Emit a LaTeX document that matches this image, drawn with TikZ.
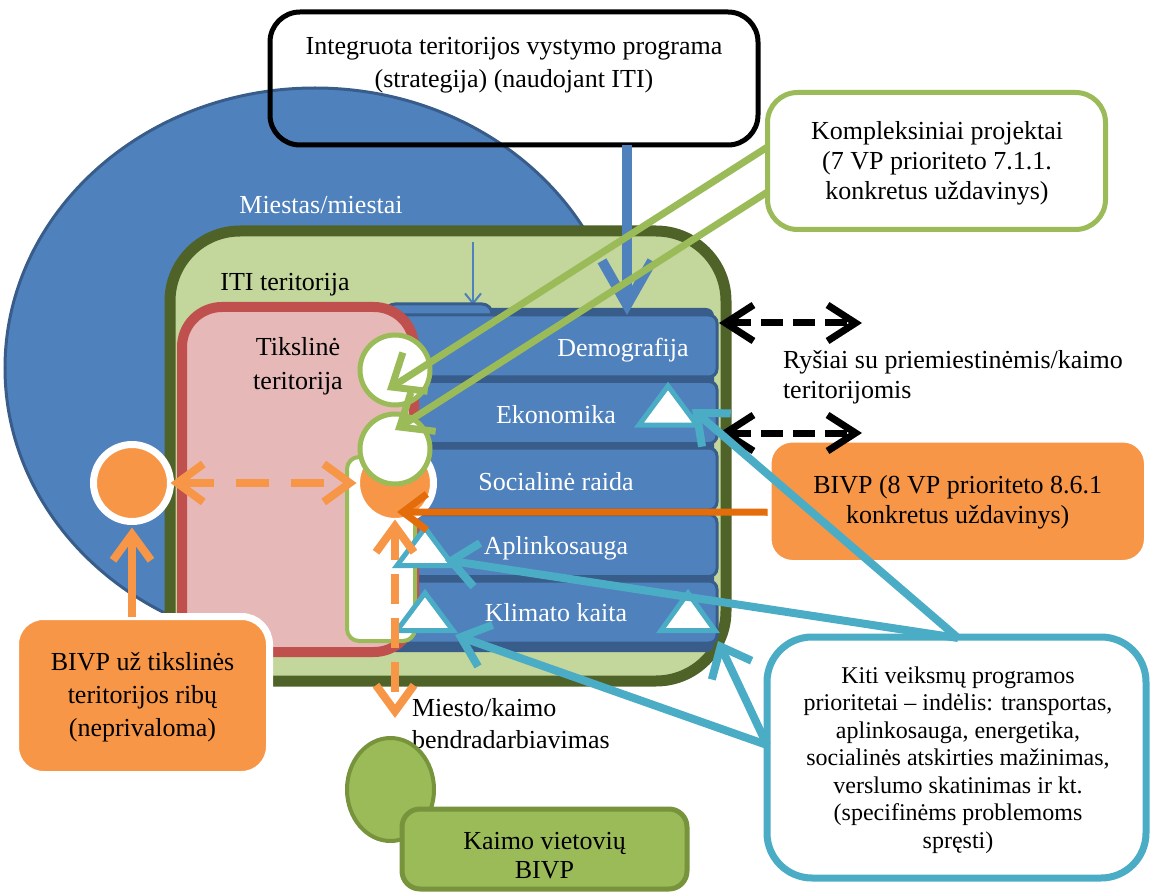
\documentclass[tikz,border=0pt]{standalone}
\usepackage{fontspec}
\setmainfont{Liberation Serif}
\usetikzlibrary{arrows.meta,shapes.geometric}
\definecolor{bluefill}{HTML}{4F81BD}
\definecolor{blueline}{HTML}{385D8A}
\definecolor{itiline}{HTML}{4F6228}
\definecolor{itifill}{HTML}{C3D69B}
\definecolor{redline}{HTML}{C0504D}
\definecolor{pinkfill}{HTML}{E6B9B8}
\definecolor{grn}{HTML}{9BBB59}
\definecolor{grnline}{HTML}{77933C}
\definecolor{orng}{HTML}{F79646}
\definecolor{orngdark}{HTML}{E46C0A}
\definecolor{cyanl}{HTML}{4BACC6}
\tikzset{
  every node/.style={font=\fontsize{26}{33}\selectfont, inner sep=0pt, outer sep=0pt},
  rbox/.style={rectangle, rounded corners=#1},
  bar/.style={rectangle, rounded corners=8pt, fill=bluefill, draw=blueline, line width=3pt, minimum width=330pt, minimum height=62pt},
  barlabel/.style={text=white},
  tri/.style={draw=cyanl, fill=white, line width=5pt, line join=miter},
  garrow/.style={draw=grn, line width=7pt, -{Straight Barb[length=28pt,width=46pt]}},
  carrow/.style={draw=cyanl, line width=8pt, -{Straight Barb[length=26pt,width=44pt]}},
  oarrow/.style={draw=orng, line width=8pt},
  karrow/.style={draw=black, line width=7pt, dash pattern=on 22pt off 10pt, {Straight Barb[length=28pt,width=36pt]}-{Straight Barb[length=28pt,width=36pt]}},
}
\begin{document}
\begin{tikzpicture}[x=1pt,y=-1pt]
\useasboundingbox (0,0) rectangle (1152,893);
% city ellipse
\node[ellipse, fill=bluefill, draw=blueline, line width=3pt, minimum width=620pt, minimum height=560pt] (city) at (315,368) {};
\node[text=white] (citytxt) at (321,205) {Miestas/miestai};
% top box
\node[rbox=30pt, draw=black, line width=5pt, minimum width=488pt, minimum height=133pt] (top) at (514,78.5) {};
\node[align=center] (toptxt) at (514,65) {Integruota teritorijos vystymo programa\\(strategija) (naudojant ITI)};
% ITI territory
\node[rbox=70pt, fill=itifill, draw=itiline, line width=11pt, minimum width=556pt, minimum height=450pt] (iti) at (448,456) {};
\node (ititxt) at (285,285) {ITI teritorija};
% thin blue arrow
\coordinate (thinA) at (473,242);
\coordinate (thinB) at (473,305);
\draw[bluefill, line width=2pt, -{Straight Barb[length=10pt,width=16pt]}] (thinA) -- (thinB);
% bar stack
\node[rbox=8pt, fill=blueline, minimum width=327pt, minimum height=344pt] (stack) at (550.5,480) {};
\node[rbox=10pt, fill=bluefill, draw=blueline, line width=3pt, minimum width=107pt, minimum height=26pt] (tab) at (438.5,317) {};
\node[bar] (demo) at (552,346) {};
\node[bar] (ekon) at (552,412.5) {};
\node[bar] (soc) at (552,479) {};
\node[bar] (apl) at (552,545.5) {};
\node[bar] (klim) at (552,612) {};
\node[barlabel] (demotxt) at (623,350) {Demografija};
\node[barlabel] (ekontxt) at (556,415) {Ekonomika};
\node[barlabel] (soctxt) at (556,482) {Socialinė raida};
\node[barlabel] (apltxt) at (556,548) {Aplinkosauga};
\node[barlabel] (klimtxt) at (556,613) {Klimato kaita};
% target territory
\node[rbox=40pt, fill=pinkfill, draw=redline, line width=10pt, minimum width=232pt, minimum height=345pt] (pink) at (298,479.5) {};
\node[align=center, font=\fontsize{26}{34}\selectfont] (pinktxt) at (298,366) {Tikslinė\\teritorija};
% white panel
\node[rbox=12pt, fill=white, draw=grn, line width=4pt, minimum width=68pt, minimum height=184pt] (panel) at (381,549) {};
% circles
\node[circle, fill=orng, draw=white, line width=7pt, minimum size=77pt] (c3) at (395,483) {};
\node[circle, fill=white, draw=grn, line width=5pt, minimum size=70pt] (c2) at (395,449) {};
\node[circle, fill=white, draw=grn, line width=5pt, minimum size=70pt] (c1) at (395,370) {};
% triangles
\draw[tri] (668,386) -- (697,425) -- (639,425) -- cycle;
\draw[tri] (425,528) -- (453,565.5) -- (397,565.5) -- cycle;
\draw[tri] (425,593) -- (453,630.5) -- (397,630.5) -- cycle;
\draw[tri] (688,593) -- (715,630.5) -- (661,630.5) -- cycle;
\coordinate (t1) at (692,409);
\coordinate (t2) at (445,560);
\coordinate (t3) at (455,635);
\coordinate (t4) at (718,641);
% left orange circle
\node[circle, fill=orng, draw=white, line width=7pt, minimum size=77pt] (lc) at (132,483) {};
% boxes
\node[rbox=28pt, fill=orng, draw=white, line width=7pt, minimum width=254pt, minimum height=158pt] (bivpu) at (142.5,695.5) {};
\node[align=center] (bivputxt) at (142.5,697) {BIVP už tikslinės\\teritorijos ribų\\(neprivaloma)};
\node[rbox=25pt, fill=orng, draw=white, line width=8pt, minimum width=380.5pt, minimum height=125.5pt] (bivp8) at (957.75,501.25) {};
\node[align=center, font=\fontsize{26}{30}\selectfont] (bivp8txt) at (957.75,502) {BIVP (8 VP prioriteto 8.6.1\\konkretus uždavinys)};
\node[rbox=30pt, fill=white, draw=grn, line width=5pt, minimum width=338pt, minimum height=137pt] (komp) at (936.5,161) {};
\node[align=center, font=\fontsize{26}{30}\selectfont] (komptxt) at (937,163) {Kompleksiniai projektai\\(7 VP prioriteto 7.1.1.\\konkretus uždavinys)};
\node[rbox=45pt, fill=white, draw=cyanl, line width=7pt, minimum width=379pt, minimum height=241pt] (kiti) at (956.5,757.5) {};
\node[align=center, font=\fontsize{24}{27.5}\selectfont] (kititxt) at (958,760) {Kiti veiksmų programos\\prioritetai – indėlis: transportas,\\aplinkosauga, energetika,\\socialinės atskirties mažinimas,\\verslumo skatinimas ir kt.\\(specifinėms problemoms\\spręsti)};
\node[anchor=west, align=left, font=\fontsize{26}{30}\selectfont] (rystxt) at (783,377) {Ryšiai su priemiestinėmis/kaimo\\teritorijomis};
\node[anchor=west, align=left, font=\fontsize{26}{32}\selectfont] (miestxt) at (412,724) {Miesto/kaimo\\bendradarbiavimas};
% rural
\node[ellipse, fill=grn, draw=grnline, line width=4pt, minimum width=87pt, minimum height=103pt] (rell) at (390.5,789.5) {};
\node[rbox=18pt, fill=grn, draw=grnline, line width=5pt, minimum width=285pt, minimum height=80pt] (kaimo) at (544.5,849) {};
\node[align=center, font=\fontsize{26}{29}\selectfont] (kaimotxt) at (544.5,856) {Kaimo vietovių\\BIVP};
% big blue arrow
\coordinate (bluetip) at (627,315);
\draw[bluefill, line width=10pt, -{Straight Barb[length=44pt,width=50pt]}] (top.south -| bluetip) -- (bluetip);
% green arrows
\coordinate (g1) at (387,390);
\coordinate (g2) at (395,430);
\draw[garrow] ([yshift=14pt]komp.west) -- (g1);
\draw[garrow] ([yshift=-31pt]komp.west) -- (g2);
% black dashed arrows
\coordinate (k1a) at (719,323);
\coordinate (k1b) at (862,323);
\coordinate (k2a) at (719,433);
\coordinate (k2b) at (862,433);
\draw[karrow] (k1a) -- (k1b);
\draw[karrow] (k2a) -- (k2b);
% orange arrows
\coordinate (otip) at (397,512);
\draw[draw=orngdark, line width=7pt, -{Straight Barb[length=24pt,width=36pt]}] ([yshift=-11pt]bivp8.west) -- (otip);
\draw[oarrow, dash pattern=on 33pt off 22pt, {Straight Barb[length=26pt,width=38pt]}-{Straight Barb[length=26pt,width=38pt]}] (lc.east) -- (c3.west);
\draw[oarrow, -{Straight Barb[length=26pt,width=38pt]}] (lc.south |- bivpu.north) -- ([yshift=-6pt]lc.south);
\coordinate (mdown) at (395,718);
\draw[oarrow, dash pattern=on 30pt off 14pt, {Straight Barb[length=26pt,width=38pt]}-{Straight Barb[length=26pt,width=38pt]}] ([yshift=2pt]c3.south) -- (mdown);
% cyan arrows
\coordinate (ktop) at (958,638);
\coordinate (kleft) at (767,745);
\draw[carrow] (ktop) -- (t1);
\draw[carrow] (ktop) -- (t2);
\draw[carrow] (kleft) -- (t3);
\draw[carrow] (kleft) -- (t4);
\end{tikzpicture}
\end{document}
